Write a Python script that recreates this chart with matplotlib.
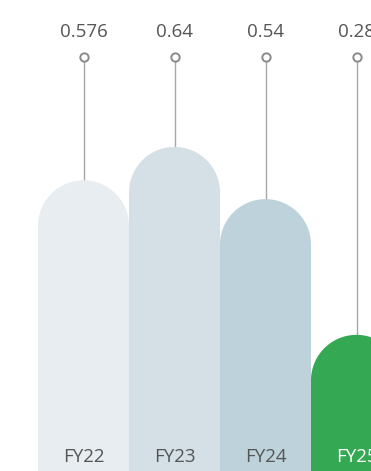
import numpy as np
import matplotlib.pyplot as plt

categories = ["FY22", "FY23", "FY24", "FY25"]
values = [0.576, 0.64, 0.54, 0.28]
labels = ["0.576", "0.64", "0.54", "0.28"]
colors = ["#e8edf1", "#d4e0e6", "#bdd2da", "#34a853"]
text_colors = ["#555555", "#555555", "#555555", "#ffffff"]

W, H = 371, 471
fig = plt.figure(figsize=(W / 100, H / 100), dpi=100)
ax = fig.add_axes([0, 0, 1, 1])

# pixel geometry of the reference
bar_px = 91.0
left_px = 38.0
base_px = 481.0
scale_px = 522.0

x0 = -0.5 - left_px / bar_px
ax.set_xlim(x0, x0 + W / bar_px)
ax.set_ylim((base_px - H) / scale_px, base_px / scale_px)
ax.axis("off")

ry = (bar_px / 2) / scale_px
marker_y = (base_px - 57) / scale_px
label_y = (base_px - 32) / scale_px
cat_y = (base_px - 457) / scale_px

for i, (cat, v) in enumerate(zip(categories, values)):
    t = np.linspace(0, np.pi, 80)
    xs = np.concatenate([[i + 0.5], i + 0.5 * np.cos(t), [i - 0.5]])
    ys = np.concatenate([[0], (v - ry) + ry * np.sin(t), [0]])
    ax.fill(xs, ys, color=colors[i], lw=0, zorder=2)

    ax.plot([i, i], [v, marker_y], color="#a6a6a6", lw=1, zorder=1)
    ax.plot(i, marker_y, marker="o", ms=6, mfc="white", mec="#8a8a8a", mew=1.4, zorder=3)
    ax.text(i, label_y, labels[i], ha="center", va="center", fontsize=13.5,
            family="Open Sans", color="#555555")
    ax.text(i, cat_y, cat, ha="center", va="center", fontsize=13.5,
            family="Open Sans", color=text_colors[i], zorder=4)

fig.savefig("out.png", dpi=100)
